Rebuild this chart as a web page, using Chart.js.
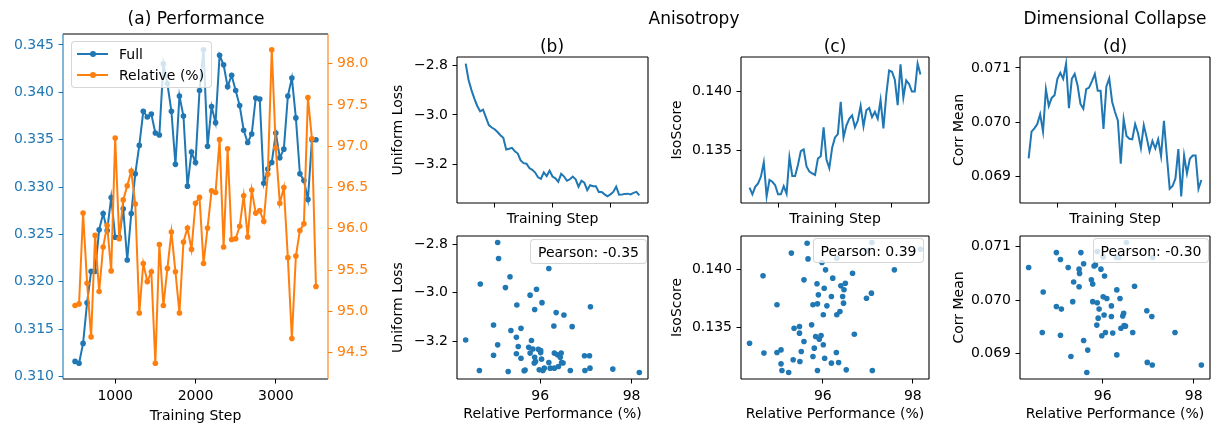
<!DOCTYPE html>
<html>
<head>
<meta charset="utf-8">
<script src="https://cdn.jsdelivr.net/npm/chart.js@4.4.1/dist/chart.umd.min.js"></script>
<style>
    body { margin: 0; background: #fff; }
    #fig { position: relative; width: 1220px; height: 428px; overflow: hidden; font-family: 'DejaVu Sans', sans-serif; color: #000; }
    canvas { position: absolute; }
    .title { position: absolute; font-size: 17px; line-height: 1; transform: translate(-50%, -50%); white-space: nowrap; }
    .box { position: absolute; box-sizing: border-box; background: rgba(255, 255, 255, 0.8); border: 1px solid rgba(204, 204, 204, 0.8); border-radius: 4px; font-size: 14px; }
    .pearson { display: flex; align-items: center; justify-content: center; white-space: nowrap; }
    .row { position: absolute; left: 0; height: 20px; width: 100%; }
    .swatch { position: absolute; left: 5px; top: 9px; width: 31px; height: 2px; }
    .dot { position: absolute; left: 18px; top: 7px; width: 6px; height: 6px; border-radius: 50%; }
    .label { position: absolute; left: 47px; top: 1px; line-height: 18px; white-space: nowrap; }
</style>
</head>
<body>
<div id="fig">
    <canvas id="perf"></canvas>
    <canvas id="uniTop"></canvas>
    <canvas id="uniScatter"></canvas>
    <canvas id="isoTop"></canvas>
    <canvas id="isoScatter"></canvas>
    <canvas id="corrTop"></canvas>
    <canvas id="corrScatter"></canvas>

    <div class="title" style="left:196px;top:18px">(a) Performance</div>
    <div class="title" style="left:694px;top:18px">Anisotropy</div>
    <div class="title" style="left:1115px;top:18px">Dimensional Collapse</div>
    <div class="title" style="left:552px;top:46px">(b)</div>
    <div class="title" style="left:835px;top:46px">(c)</div>
    <div class="title" style="left:1115px;top:46px">(d)</div>

    <div class="box" style="left:71px;top:41px;width:141px;height:47px">
        <div class="row" style="top:2px">
            <span class="swatch" style="background:#1f77b4"></span><span class="dot" style="background:#1f77b4"></span>
            <span class="label">Full</span>
        </div>
        <div class="row" style="top:23px">
            <span class="swatch" style="background:#ff7f0e"></span><span class="dot" style="background:#ff7f0e"></span>
            <span class="label">Relative (%)</span>
        </div>
    </div>

    <div class="box pearson" style="left:530px;top:239px;width:117px;height:25px">Pearson: -0.35</div>
    <div class="box pearson" style="left:813px;top:238px;width:111px;height:25px">Pearson: 0.39</div>
    <div class="box pearson" style="left:1093px;top:238px;width:116px;height:25px">Pearson: -0.30</div>
</div>

<script>
// training steps (x of every line)
const steps = [500, 550, 600, 650, 700, 750, 800, 850, 900, 950, 1000, 1050, 1100, 1150, 1200, 1250, 1300, 1350, 1400, 1450,
    1500, 1550, 1600, 1650, 1700, 1750, 1800, 1850, 1900, 1950, 2000, 2050, 2100, 2150, 2200, 2250, 2300, 2350, 2400, 2450,
    2500, 2550, 2600, 2650, 2700, 2750, 2800, 2850, 2900, 2950, 3000, 3050, 3100, 3150, 3200, 3250, 3300, 3350, 3400, 3450, 3500];

const full = [0.3116, 0.3114, 0.3135, 0.3178, 0.3211, 0.3211, 0.3255, 0.3272, 0.3254, 0.3289, 0.3247, 0.3247, 0.3277, 0.3223, 0.3272,
    0.3314, 0.3344, 0.3380, 0.3374, 0.3377, 0.3357, 0.3355, 0.3430, 0.3409, 0.3380, 0.3324, 0.3396, 0.3375, 0.3301, 0.3337,
    0.3326, 0.3402, 0.3445, 0.3343, 0.3385, 0.3368, 0.3439, 0.3429, 0.3406, 0.3418, 0.3402, 0.3386, 0.3360, 0.3347, 0.3356,
    0.3394, 0.3393, 0.3304, 0.3319, 0.3326, 0.3357, 0.3331, 0.3340, 0.3396, 0.3415, 0.3373, 0.3314, 0.3307, 0.3287, 0.3350, 0.3350];

const relative = [95.07, 95.09, 96.19, 95.34, 94.69, 95.92, 95.24, 95.78, 96.04, 95.49, 97.10, 95.88, 96.35, 96.52, 96.70,
    96.30, 94.98, 95.58, 95.36, 95.48, 94.37, 95.81, 95.07, 95.52, 95.96, 95.48, 94.98, 95.84, 96.01, 95.75,
    96.31, 96.38, 95.58, 96.01, 96.46, 96.44, 97.08, 95.78, 96.97, 95.87, 95.88, 96.03, 96.40, 95.90, 96.47,
    96.19, 96.22, 96.09, 96.66, 98.17, 96.98, 96.31, 96.50, 95.65, 94.67, 95.67, 95.98, 96.06, 97.59, 97.09, 95.30];

const uniformLoss = [-2.793, -2.859, -2.900, -2.934, -2.964, -2.986, -2.979, -3.010, -3.041, -3.051, -3.058, -3.069, -3.082, -3.092, -3.140,
    -3.137, -3.133, -3.147, -3.156, -3.184, -3.195, -3.197, -3.215, -3.222, -3.233, -3.252, -3.258, -3.232, -3.247, -3.225,
    -3.249, -3.256, -3.270, -3.238, -3.249, -3.266, -3.260, -3.249, -3.260, -3.290, -3.266, -3.274, -3.304, -3.284, -3.288,
    -3.288, -3.311, -3.311, -3.321, -3.329, -3.321, -3.311, -3.290, -3.322, -3.321, -3.319, -3.318, -3.321, -3.315, -3.311, -3.325];

const isoScore = [0.13185, 0.13127, 0.13191, 0.13220, 0.13278, 0.13399, 0.13110, 0.13249, 0.13234, 0.13205, 0.13127, 0.13127, 0.13197, 0.13133, 0.13442,
    0.13283, 0.13283, 0.13379, 0.13494, 0.13509, 0.13364, 0.13321, 0.13306, 0.13292, 0.13431, 0.13451, 0.13697, 0.13422, 0.13350, 0.13523,
    0.13610, 0.13639, 0.13913, 0.13610, 0.13711, 0.13769, 0.13798, 0.13697, 0.13754, 0.13879, 0.13705, 0.13841, 0.13861, 0.13783, 0.13827,
    0.13769, 0.13928, 0.13688, 0.13971, 0.14179, 0.14168, 0.14101, 0.13884, 0.14231, 0.13948, 0.14095, 0.14064, 0.14000, 0.14000, 0.14237, 0.14145];

const corrMean = [0.06934, 0.06983, 0.06989, 0.06997, 0.07015, 0.06983, 0.07061, 0.07030, 0.07045, 0.07050, 0.07080, 0.07091, 0.07080, 0.07108, 0.07026,
    0.07080, 0.07089, 0.07068, 0.07034, 0.07025, 0.07061, 0.07064, 0.07076, 0.07089, 0.07058, 0.07058, 0.06988, 0.07066, 0.07081, 0.07038,
    0.07019, 0.07003, 0.06924, 0.07006, 0.06975, 0.06970, 0.06969, 0.06997, 0.06980, 0.06953, 0.06995, 0.06972, 0.06947, 0.06966, 0.06952,
    0.06969, 0.06938, 0.07003, 0.06939, 0.06878, 0.06883, 0.06897, 0.06951, 0.06864, 0.06939, 0.06906, 0.06933, 0.06939, 0.06939, 0.06878, 0.06894];

// tick labels
const stepTicks = [1000, 2000, 3000];
const fullTicks = [0.310, 0.315, 0.320, 0.325, 0.330, 0.335, 0.340, 0.345];
const relTicks = [94.5, 95.0, 95.5, 96.0, 96.5, 97.0, 97.5, 98.0];
const relScatterTicks = [96, 98];
const uniformTicks = [-3.2, -3.0, -2.8];
const isoTicks = [0.135, 0.140];
const corrTicks = [0.069, 0.070, 0.071];

const BLUE = '#1f77b4';
const ORANGE = '#ff7f0e';

Chart.defaults.font.family = "'DejaVu Sans', sans-serif";
Chart.defaults.font.size = 14;
Chart.defaults.color = '#000';

// matplotlib style box around the plot area
Chart.register({
    id: 'frame',
    afterDatasetsDraw(chart, args, opts) {
        const { ctx, chartArea: { left, right, top, bottom } } = chart;
        const c = Object.assign({ left: '#000', right: '#000', top: '#000', bottom: '#000' }, opts.colors);
        const seg = (x1, y1, x2, y2, col) => {
            ctx.beginPath(); ctx.strokeStyle = col; ctx.moveTo(x1, y1); ctx.lineTo(x2, y2); ctx.stroke();
        };
        ctx.save();
        ctx.lineWidth = 1.1;
        seg(left, top, right, top, c.top);
        seg(left, bottom, right, bottom, c.bottom);
        seg(left, top, left, bottom, c.left);
        seg(right, top, right, bottom, c.right);
        ctx.restore();
    }
});

function limits(arr) {
    const lo = Math.min(...arr), hi = Math.max(...arr), m = (hi - lo) * 0.05;
    return [lo - m, hi + m];
}

function xy(xs, ys) {
    return xs.map((x, i) => ({ x, y: ys[i] }));
}

const minus = s => s.replace('-', '\u2212');

function axis(range, ticks, fmt, color, extra) {
    return Object.assign({
        type: 'linear',
        min: range[0],
        max: range[1],
        afterBuildTicks: s => { s.ticks = ticks.map(v => ({ value: v })); },
        ticks: { callback: fmt, padding: 4.5, color, autoSkip: false, maxRotation: 0 },
        grid: { drawOnChartArea: false, drawTicks: true, tickLength: 4.5, color },
        border: { display: false }
    }, extra);
}

function axisTitle(text, pad) {
    return { display: true, text, color: '#000', font: { size: 14 }, padding: pad };
}

// place canvas so the plot area lands on plot = [l, t, r, b]
function place(id, canvasBox, plot) {
    const el = document.getElementById(id);
    const [cl, ct, cr, cb] = canvasBox;
    el.width = cr - cl;
    el.height = cb - ct;
    el.style.left = cl + 'px';
    el.style.top = ct + 'px';
    return {
        el,
        padding: { top: plot[1] - ct, right: 0, left: 0, bottom: 0 },
        yW: plot[0] - cl,
        rW: cr - plot[2],
        xH: cb - plot[3]
    };
}

function baseOptions(p, scales, frameColors) {
    return {
        responsive: false,
        animation: false,
        layout: { autoPadding: false, padding: p.padding },
        plugins: { legend: { display: false }, tooltip: { enabled: false }, frame: { colors: frameColors } },
        elements: { line: { tension: 0 } },
        scales
    };
}

// (a) performance, twin axes
(() => {
    const p = place('perf', [0, 0, 380, 428], [63, 34, 328, 379]);
    const lineStyle = col => ({
        borderColor: col, backgroundColor: col, borderWidth: 2,
        pointRadius: 2.8, pointBackgroundColor: col, pointBorderWidth: 0
    });
    new Chart(p.el, {
        type: 'line',
        data: {
            datasets: [
                Object.assign({ label: 'Relative (%)', data: xy(steps, relative), yAxisID: 'y1', order: 0 }, lineStyle(ORANGE)),
                Object.assign({ label: 'Full', data: xy(steps, full), yAxisID: 'y', order: 1 }, lineStyle(BLUE))
            ]
        },
        options: baseOptions(p, {
            x: axis(limits(steps), stepTicks, v => String(v), '#000', {
                position: 'bottom',
                afterFit: s => { s.height = p.xH; },
                title: axisTitle('Training Step', { top: 0, bottom: 3.6 })
            }),
            y: axis(limits(full), fullTicks, v => v.toFixed(3), BLUE, {
                position: 'left',
                afterFit: s => { s.width = p.yW; }
            }),
            y1: axis(limits(relative), relTicks, v => v.toFixed(1), ORANGE, {
                position: 'right',
                afterFit: s => { s.width = p.rW; }
            })
        }, { left: BLUE, right: ORANGE })
    });
})();

// (b)-(d): metric over training steps on top, metric vs relative performance below
function metricPair(topId, scatterId, colL, colR, plotL, plotR, values, ticks, fmt, yTitle, yTitlePad) {
    const yRange = limits(values);

    const t = place(topId, [colL, 40, colR, 230], [plotL, 57, plotR, 203]);
    t.padding.right = colR - plotR;
    new Chart(t.el, {
        type: 'line',
        data: { datasets: [{ data: xy(steps, values), borderColor: BLUE, borderWidth: 2, pointRadius: 0 }] },
        options: baseOptions(t, {
            x: axis(limits(steps), stepTicks, () => '', '#000', {
                afterFit: s => { s.height = t.xH; },
                title: axisTitle('Training Step', { top: 0, bottom: 2.1 })
            }),
            y: axis(yRange, ticks, fmt, '#000', {
                afterFit: s => { s.width = t.yW; },
                title: axisTitle(yTitle, { top: yTitlePad, bottom: 0 })
            })
        })
    });

    const b = place(scatterId, [colL, 222, colR, 428], [plotL, 236, plotR, 379]);
    b.padding.right = colR - plotR;
    new Chart(b.el, {
        type: 'scatter',
        data: { datasets: [{ data: xy(relative, values), backgroundColor: BLUE, borderWidth: 0, pointRadius: 2.8 }] },
        options: baseOptions(b, {
            x: axis(limits(relative), relScatterTicks, v => String(v), '#000', {
                afterFit: s => { s.height = b.xH; },
                title: axisTitle('Relative Performance (%)', { top: 0, bottom: 5.6 })
            }),
            y: axis(yRange, ticks, fmt, '#000', {
                afterFit: s => { s.width = b.yW; },
                title: axisTitle(yTitle, { top: yTitlePad, bottom: 0 })
            })
        })
    });
}

metricPair('uniTop', 'uniScatter', 380, 660, 457, 648, uniformLoss, uniformTicks, v => minus(v.toFixed(1)), 'Uniform Loss', 9.6);
metricPair('isoTop', 'isoScatter', 660, 940, 741, 929, isoScore, isoTicks, v => v.toFixed(3), 'IsoScore', 9.1);
metricPair('corrTop', 'corrScatter', 940, 1220, 1020, 1210, corrMean, corrTicks, v => v.toFixed(3), 'Corr Mean', 10.6);
</script>
</body>
</html>
